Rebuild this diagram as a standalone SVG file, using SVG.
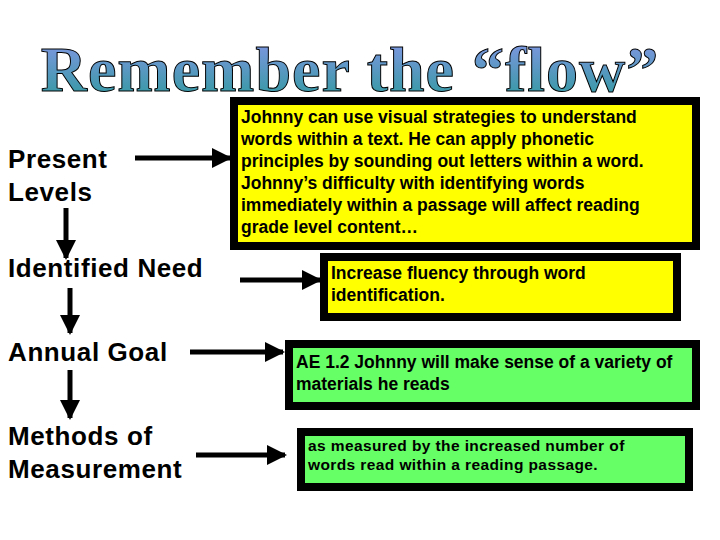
<svg xmlns="http://www.w3.org/2000/svg" width="720" height="540" viewBox="0 0 720 540">
<defs>
<linearGradient id="tg" x1="0" y1="0" x2="0" y2="1"><stop offset="0" stop-color="#8a96ea"/><stop offset="1" stop-color="#2a9a9a"/></linearGradient>
<marker id="ah" viewBox="0 0 10 10" refX="9" refY="5" markerWidth="4" markerHeight="4" orient="auto" markerUnits="strokeWidth"><path d="M0,0L10,5L0,10z" fill="#000"/></marker>
</defs>
<style>
.lbl{font-family:"Liberation Sans",Arial,sans-serif;font-weight:bold;font-size:26px;letter-spacing:0.6px;fill:#000}
.bt{font-family:"Liberation Sans",Arial,sans-serif;font-weight:bold;font-size:17.5px;fill:#000}
.bs{font-family:"Liberation Sans",Arial,sans-serif;font-weight:bold;font-size:15.5px;letter-spacing:0.4px;fill:#000}
.ar{stroke:#000;stroke-width:5;fill:none;marker-end:url(#ah)}
.box{stroke:#000;stroke-width:8}
</style>
<rect width="720" height="540" fill="#fff"/>
<text x="350" y="91" text-anchor="middle" font-family="Liberation Serif,serif" font-weight="bold" font-size="64" fill="url(#tg)" stroke="#000" stroke-width="1" letter-spacing="1">Remember the “flow”</text>
<g id="present"><text class="lbl" x="8" y="168">Present</text><text class="lbl" x="8" y="201">Levels</text></g>
<g id="need"><text class="lbl" x="8" y="277">Identified Need</text></g>
<g id="goal"><text class="lbl" x="8" y="361">Annual Goal</text></g>
<g id="methods"><text class="lbl" x="8" y="445">Methods of</text><text class="lbl" x="8" y="478">Measurement</text></g>
<g id="box1"><rect class="box" x="234" y="101" width="462" height="145" fill="#ffff00"/>
<text class="bt"><tspan x="241" y="123">Johnny can use visual strategies to understand</tspan><tspan x="241" y="145">words within a text. He can apply phonetic</tspan><tspan x="241" y="167">principles by sounding out letters within a word.</tspan><tspan x="241" y="189">Johnny’s difficulty with identifying words</tspan><tspan x="241" y="211">immediately within a passage will affect reading</tspan><tspan x="241" y="233">grade level content…</tspan></text></g>
<g id="box2"><rect class="box" x="324" y="257" width="353" height="60" fill="#ffff00"/>
<text class="bt"><tspan x="331" y="279">Increase fluency through word</tspan><tspan x="331" y="301">identification.</tspan></text></g>
<g id="box3"><rect class="box" x="289" y="344" width="407" height="62" fill="#66ff66"/>
<text class="bt"><tspan x="296" y="368">AE 1.2  Johnny will make sense of a variety of</tspan><tspan x="296" y="390">materials he reads</tspan></text></g>
<g id="box4"><rect class="box" x="301" y="432" width="388" height="55" fill="#66ff66"/>
<text class="bs"><tspan x="308" y="451">as measured by the increased number of</tspan><tspan x="308" y="470">words read within a reading passage.</tspan></text></g>
<g id="connectors">
<line class="ar" x1="135" y1="158" x2="230" y2="158"/>
<line class="ar" x1="240" y1="280" x2="320" y2="280"/>
<line class="ar" x1="190" y1="352" x2="283" y2="352"/>
<line class="ar" x1="196" y1="455" x2="285" y2="455"/>
<line class="ar" x1="66" y1="208" x2="66" y2="258"/>
<line class="ar" x1="70" y1="288" x2="70" y2="333"/>
<line class="ar" x1="70" y1="370" x2="70" y2="418"/>
</g>
</svg>
